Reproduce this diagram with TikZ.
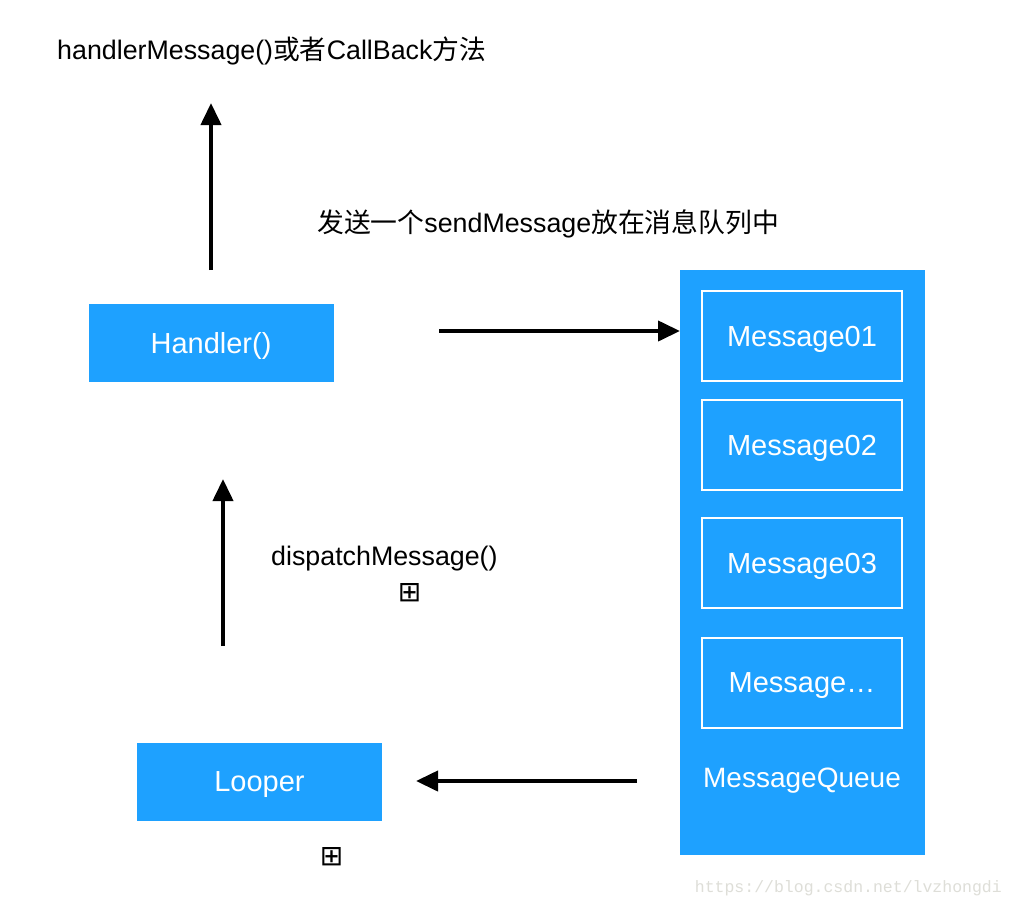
\documentclass[tikz,border=0pt]{standalone}
\usepackage{fontspec}
\setmainfont{Liberation Sans}
\newfontfamily\cjk{Noto Sans CJK SC}
\newfontfamily\symfont{DejaVu Sans}
\newfontfamily\wmfont{Liberation Mono}
\usetikzlibrary{arrows.meta}
\definecolor{qblue}{RGB}{30,161,255}
\definecolor{wmgray}{RGB}{222,222,216}
\begin{document}
\begin{tikzpicture}[x=1pt,y=-1pt,
  bluebox/.style={fill=qblue,draw=none,inner sep=0pt},
  msgbox/.style={draw=white,line width=2pt,fill=qblue,minimum width=200pt,minimum height=90pt,inner sep=0pt},
  wtext/.style={text=white,inner sep=0pt,font=\fontsize{29}{32}\selectfont},
  lbl/.style={text=black,inner sep=0pt,font=\fontsize{26.8}{30}\selectfont},
  flow/.style={line width=4pt,-{Triangle[length=22pt,width=20pt]}},
  boxmark/.style={inner sep=0pt,font=\symfont\fontsize{28}{30}\selectfont}
]
\useasboundingbox[fill=white] (0,0) rectangle (1014,908);
% boxes
\node[bluebox,minimum width=245pt,minimum height=78pt] (handler) at (211,343) {};
\node[wtext] (handlertxt) at ([yshift=-3pt]handler.center) {Handler()};
\node[bluebox,minimum width=245pt,minimum height=78pt] (looper) at (259.5,781.5) {};
\node[wtext] (loopertxt) at ([yshift=-3pt]looper.center) {Looper};
\node[bluebox,minimum width=245pt,minimum height=585pt] (queue) at (802,562.5) {};
\node[msgbox] (m1) at (802,336) {};
\node[msgbox] (m2) at (802,445) {};
\node[msgbox] (m3) at (802,563) {};
\node[msgbox] (m4) at (802,683) {};
\node[wtext] (m1t) at ([yshift=-3pt]m1.center) {Message01};
\node[wtext] (m2t) at ([yshift=-3pt]m2.center) {Message02};
\node[wtext] (m3t) at ([yshift=-3pt]m3.center) {Message03};
\node[wtext] (m4t) at ([yshift=-3pt]m4.center) {Message…};
\node[wtext,font=\fontsize{28}{30}\selectfont] (qlabel) at (802,781) {MessageQueue};
% labels
\node[lbl,anchor=west] (toplbl) at (57,51) {handlerMessage(){\cjk 或者}CallBack{\cjk 方法}};
\node[lbl,anchor=west] (sendlbl) at (317,224) {{\cjk 发送一个}sendMessage{\cjk 放在消息队列中}};
\node[lbl,anchor=west] (displbl) at (271,559) {dispatchMessage()};
\node[boxmark] (mk1) at (409.5,593) {⊞};
\node[boxmark] (mk2) at (331.5,857) {⊞};
\node[text=wmgray,inner sep=0pt,anchor=east,font=\wmfont\fontsize{16.5}{18}\selectfont] (wm) at (1002,888) {https://blog.csdn.net/lvzhongdi};
% arrow ends
\coordinate (a1s) at (211,270);
\coordinate (a1e) at (211,103);
\coordinate (a2s) at (439,331);
\coordinate (a2e) at (680,331);
\coordinate (a3s) at (223,646);
\coordinate (a3e) at (223,479);
\coordinate (a4s) at (637,781);
\coordinate (a4e) at (416,781);
\draw[flow] (a1s) -- (a1e);
\draw[flow] (a2s) -- (a2e);
\draw[flow] (a3s) -- (a3e);
\draw[flow] (a4s) -- (a4e);
\end{tikzpicture}
\end{document}
